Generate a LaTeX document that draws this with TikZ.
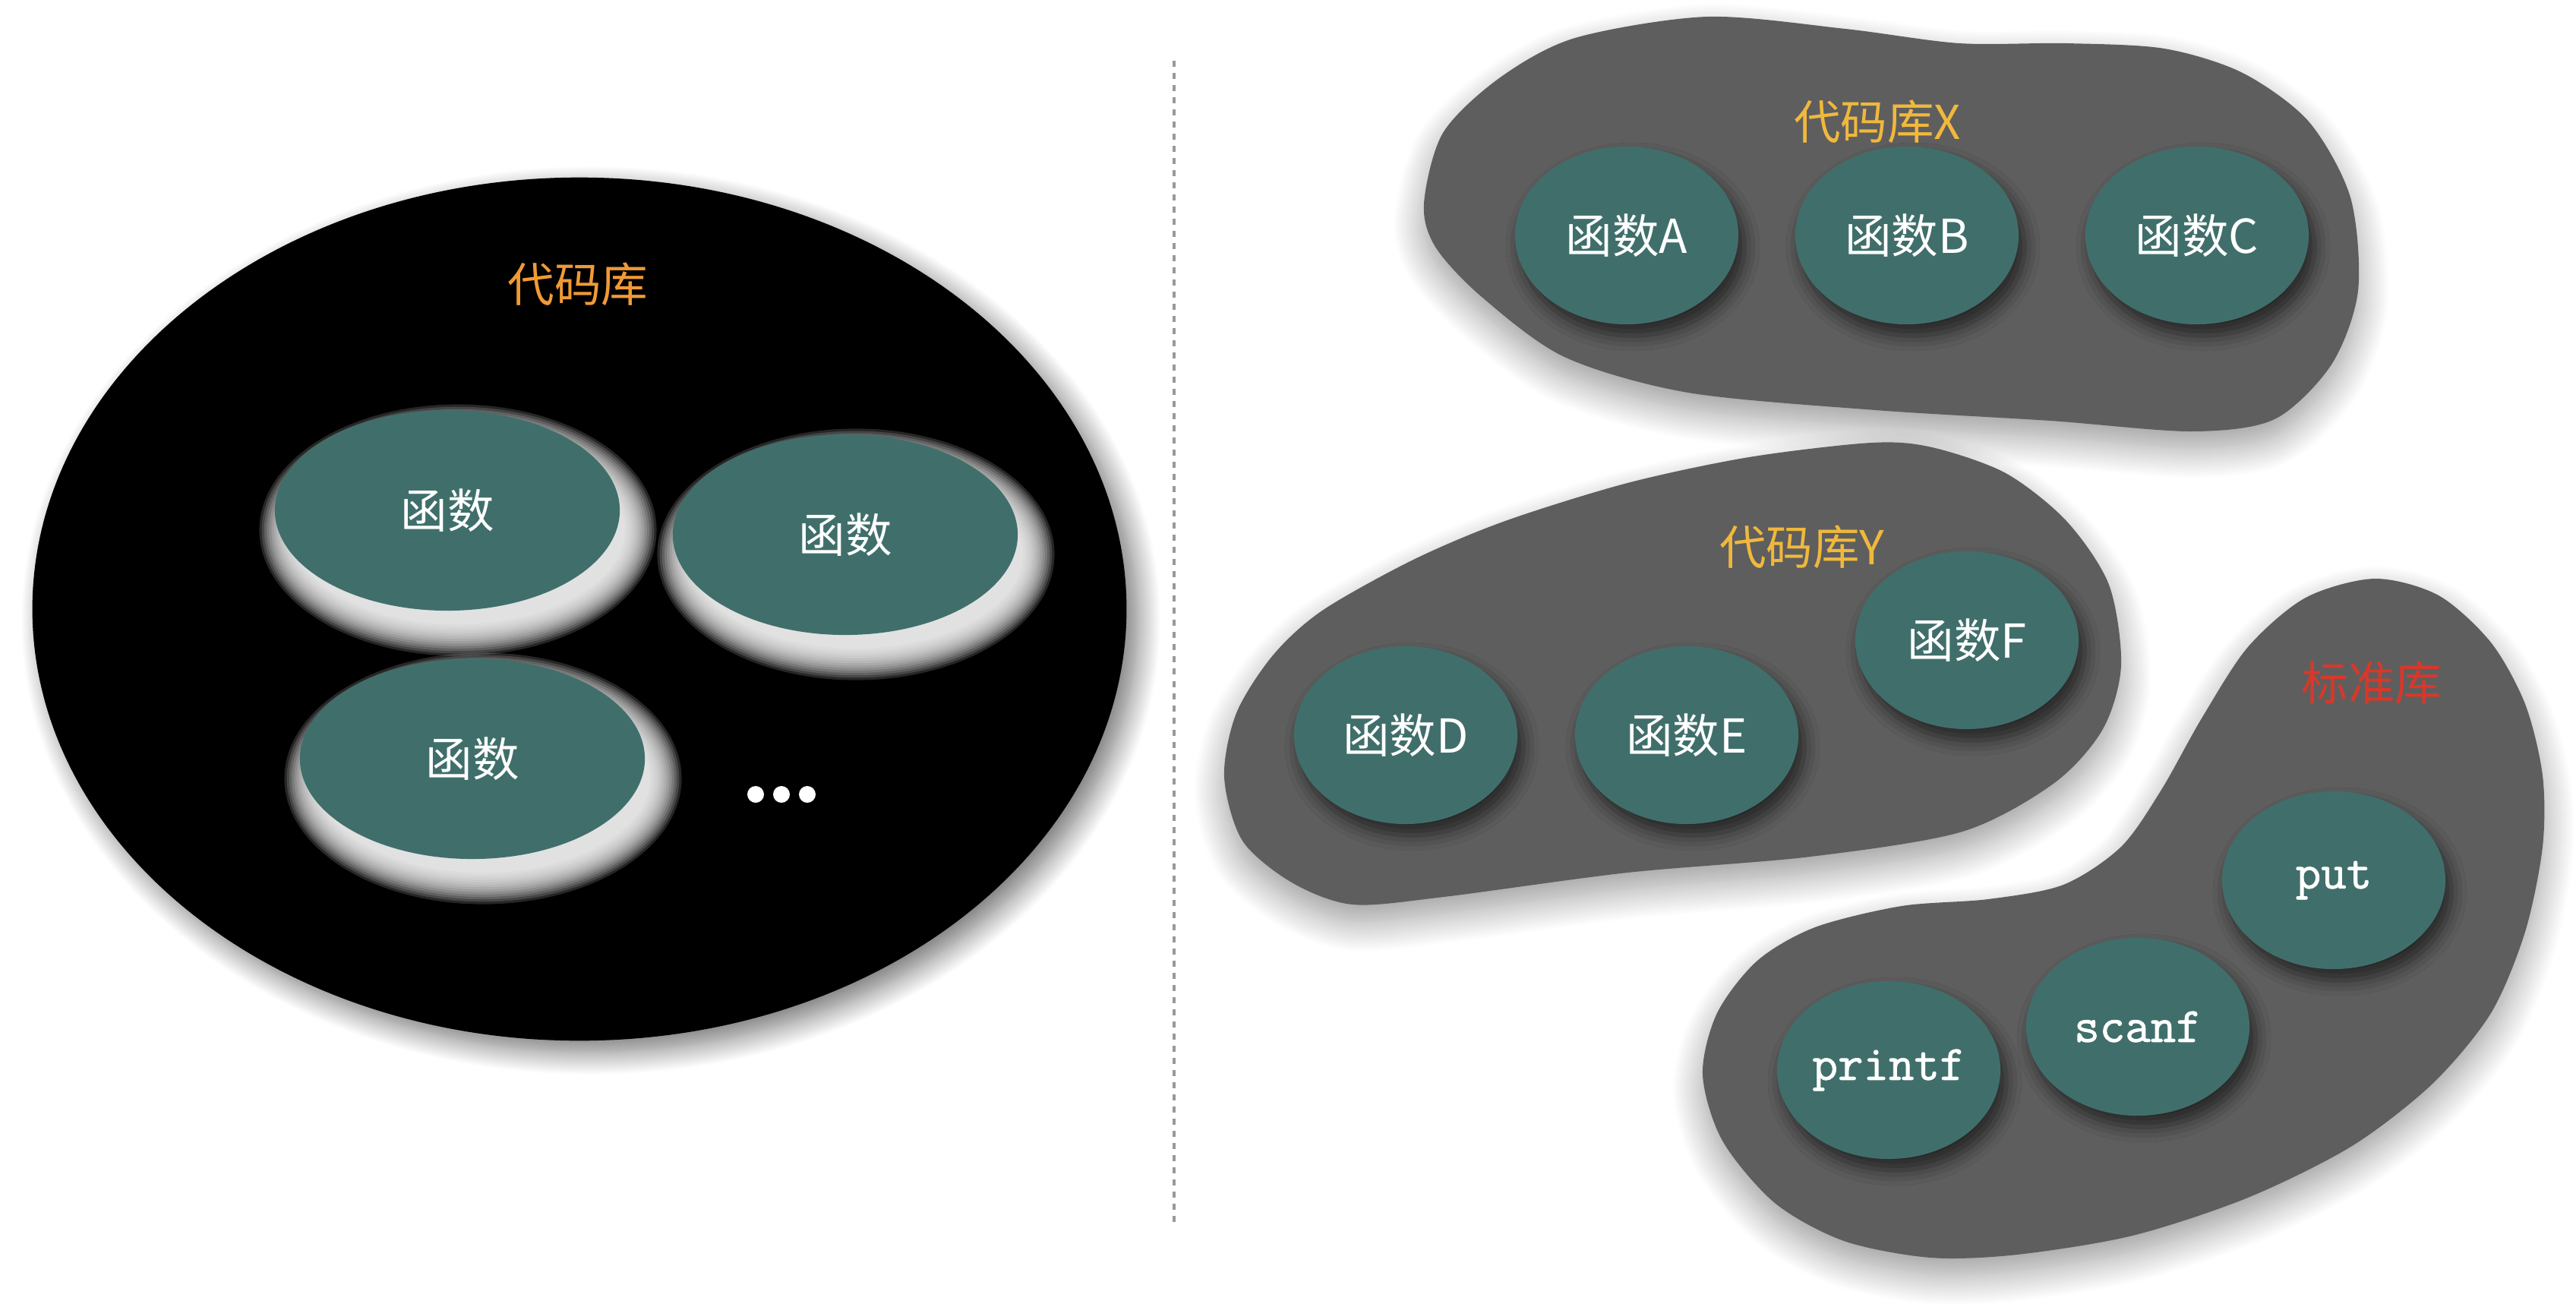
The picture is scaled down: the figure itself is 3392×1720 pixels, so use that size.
\documentclass[tikz,border=0pt]{standalone}
\usepackage{fontspec}
\setmainfont{Noto Sans CJK SC}
\newfontfamily\codefont{Latin Modern Mono}[FakeBold=1.3]
\usetikzlibrary{shapes.geometric,shadows.blur}
\definecolor{fngreen}{HTML}{406F6B}
\definecolor{blobgray}{HTML}{5E5E5E}
\definecolor{liborange}{HTML}{F09A36}
\definecolor{libgold}{HTML}{F0B83C}
\definecolor{libred}{HTML}{D8382A}
\definecolor{sepgray}{HTML}{999999}
\begin{document}
\begin{tikzpicture}[x=.01cm,y=-.01cm,
 font=\fontsize{17.5}{20}\selectfont,
 fn/.style={ellipse,fill=fngreen,text=white,inner sep=0pt},
 fnbig/.style={fn,minimum width=4.54cm,minimum height=2.64cm},
 fnsmall/.style={fn,minimum width=2.94cm,minimum height=2.34cm,
  blur shadow={shadow xshift=.08cm,shadow yshift=-.15cm,
   shadow blur radius=.2cm,shadow opacity=60}},
 blob/.style={fill=blobgray,blur shadow={shadow xshift=0cm,
  shadow yshift=-.22cm,shadow blur radius=.4cm,shadow opacity=40,
  shadow blur steps=20}},
 code/.style={font=\fontsize{18.5}{20}\selectfont\codefont}]
\useasboundingbox (0,0) rectangle (3392,1720);
% left: one code library holding functions
\node[ellipse,fill=black,minimum width=14.4cm,minimum height=11.36cm,
 blur shadow={shadow xshift=.15cm,shadow yshift=-.15cm,
  shadow blur radius=.3cm,shadow opacity=55,shadow blur steps=20}] (lib) at (763,802) {};
\node[text=liborange] (libname) at (761,374) {代码库};
% white glow under the functions
\foreach \p/\q in {589/672,1113/704,622/999}
 \foreach \i in {0,...,13}
  \fill[white,opacity=.15] (\p+14,\q+26)
   circle[x radius=220+3.2*\i,y radius=124+3.2*\i];
\node[fnbig] (f1) at (589,672) {函数};
\node[fnbig] (f2) at (1113,704) {函数};
\node[fnbig] (f3) at (622,999) {函数};
\foreach \dx in {995,1029,1063}
 \fill[white] (\dx,1046) circle[radius=11];
% separator
\coordinate (septop) at (1546,80);
\coordinate (sepbot) at (1546,1611);
\draw[sepgray,line width=.04cm,dash pattern=on .08cm off .08cm] (septop)--(sepbot);
% right: library X
\fill[blob] plot[smooth cycle] coordinates {(1875,268) (1900,175)
 (1974,103) (2074,50) (2248,22) (2430,38) (2580,57) (2721,57)
 (2850,64) (2953,96) (3040,160) (3095,260) (3105,383) (3070,480)
 (2995,552) (2886,568) (2700,554) (2470,540) (2223,517) (2060,470)
 (1950,390) (1890,325)};
\node[text=libgold] (xname) at (2472,160) {代码库X};
\node[fnsmall] (fa) at (2142,310) {函数A};
\node[fnsmall] (fb) at (2511,310) {函数B};
\node[fnsmall] (fc) at (2893,310) {函数C};
% library Y
\fill[blob] plot[smooth cycle] coordinates {(2464,583) (2544,589)
 (2641,623) (2721,686) (2777,770) (2793,876) (2769,960) (2705,1031)
 (2584,1095) (2384,1128) (2143,1149) (1901,1181) (1781,1191)
 (1701,1162) (1636,1107) (1612,1023) (1628,939) (1676,863)
 (1741,804) (1861,737) (1982,686) (2143,636) (2303,602)};
\node[text=libgold] (yname) at (2373,720) {代码库Y};
\node[fnsmall] (fd) at (1851,968) {函数D};
\node[fnsmall] (fe) at (2221,968) {函数E};
\node[fnsmall] (ff) at (2590,843) {函数F};
% standard library
\fill[blob] plot[smooth cycle] coordinates {(3127,762) (3211,784)
 (3280,846) (3325,927) (3348,1021) (3348,1115) (3325,1227)
 (3280,1334) (3203,1427) (3097,1509) (2960,1577) (2808,1627)
 (2656,1652) (2542,1656) (2428,1634) (2337,1584) (2268,1502)
 (2242,1415) (2261,1334) (2314,1265) (2390,1221) (2504,1193)
 (2618,1184) (2717,1165) (2793,1115) (2846,1040) (2899,946)
 (2960,852) (3036,787)};
\node[text=libred] (stdname) at (3123,899) {标准库};
\node[fnsmall,code] (put) at (3073,1159) {put};
\node[fnsmall,code] (scanf) at (2815,1352) {scanf};
\node[fnsmall,code] (printf) at (2487,1409) {printf};
\end{tikzpicture}
\end{document}
